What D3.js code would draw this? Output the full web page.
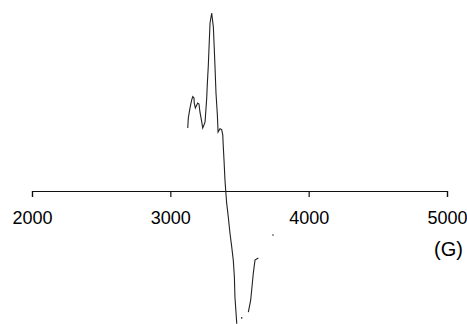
<!DOCTYPE html>
<html>
<head>
<meta charset="utf-8">
<script src="https://cdn.jsdelivr.net/npm/d3@7"></script>
<style>
  body { margin: 0; background: #fff; }
  svg { display: block; }
</style>
</head>
<body>
<svg id="chart" width="467" height="324"></svg>
<script>
// Field axis (G) and normalised derivative intensity.
// null marks a break in the trace.
const fieldG = [
    3126, 3130, 3142, 3154, 3162, 3171, 3173, 3181, 3191, 3198, 3207, 3214,
    3227, 3234, 3243, 3251, 3256, 3263, 3267, 3274, 3287, 3299, 3311, 3318,
    3323, 3330, 3340, 3345, 3359, 3371, 3379, 3383, 3388, 3395, 3400, 3407,
    3419, 3431, 3444, 3455, 3463, 3467, 3475, 3480, 3484,
    3500, 3516, 3540,
    3564, 3581, 3588, 3600, 3612, 3636,
    3700, 3742, 3760
];
const intensity = [
    0.354, 0.41, 0.466, 0.511, 0.53, 0.522, 0.494, 0.466, 0.483, 0.494, 0.489, 0.444,
    0.388, 0.354, 0.371, 0.388, 0.444, 0.522, 0.596, 0.697, 0.944, 1.0, 0.921, 0.792,
    0.697, 0.551, 0.427, 0.331, 0.35, 0.345, 0.315, 0.247, 0.174, 0.062, 0.006, -0.067,
    -0.146, -0.236, -0.315, -0.388, -0.483, -0.596, -0.685, -0.742, -0.742,
    null, -0.713, null,
    -0.68, -0.612, -0.556, -0.461, -0.388, -0.376,
    null, -0.247, null
];
const tickValues = [2000, 3000, 4000, 5000];
const unitLabel = "(G)";

const svg = d3.select("#chart");

const x = d3.scaleLinear().domain([2000, 5000]).range([32, 447]);
const y = d3.scaleLinear().domain([-1, 1]).range([191 + 178, 191 - 178]);

const points = fieldG.map((g, i) => ({ g: g, v: intensity[i] }));

// Axis along the zero line.
const axis = svg.append("g")
    .attr("transform", `translate(0,${y(0)})`)
    .call(d3.axisBottom(x)
        .tickValues(tickValues)
        .tickFormat(d3.format("d"))
        .tickSize(6)
        .tickPadding(14));
axis.select(".domain").attr("stroke", "#111").attr("stroke-width", 1.2);
axis.selectAll(".tick line").attr("stroke", "#111").attr("stroke-width", 1.2);
axis.selectAll(".tick text")
    .attr("fill", "#000")
    .style("font-family", "Liberation Sans, Arial, sans-serif")
    .style("font-size", "18px");

svg.append("text")
    .attr("x", 463)
    .attr("y", 256)
    .attr("text-anchor", "end")
    .style("font-family", "Liberation Sans, Arial, sans-serif")
    .style("font-size", "20px")
    .text(unitLabel);

// Spectrum trace.
const line = d3.line()
    .defined((d) => d.v != null)
    .x((d) => x(d.g))
    .y((d) => y(d.v));

svg.append("path")
    .datum(points)
    .attr("fill", "none")
    .attr("stroke", "#222")
    .attr("stroke-width", 1.1)
    .attr("d", line);

// Isolated samples show up as single dots.
const lone = points.filter((d, i) =>
    d.v != null &&
    (i === 0 || points[i - 1].v == null) &&
    (i === points.length - 1 || points[i + 1].v == null));
svg.selectAll(".dot")
    .data(lone)
    .join("circle")
    .attr("class", "dot")
    .attr("cx", (d) => x(d.g))
    .attr("cy", (d) => y(d.v))
    .attr("r", 0.8)
    .attr("fill", "#222");
</script>
</body>
</html>
